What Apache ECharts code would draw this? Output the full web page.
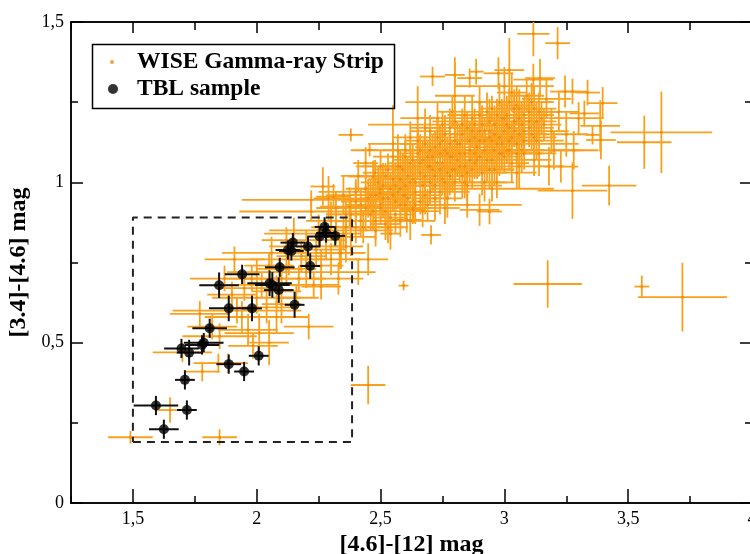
<!DOCTYPE html>
<html><head><meta charset="utf-8">
<script src="https://cdn.jsdelivr.net/npm/echarts@6/dist/echarts.min.js"></script>
<style>html,body{margin:0;padding:0;background:#fff}#c{width:750px;height:554px}</style>
</head><body><div id="c"></div>
<script>
// ---- data ----
const xMajorTicks = [1.5, 2, 2.5, 3, 3.5, 4];
const xMinorTicks = [1.25, 1.75, 2.25, 2.75, 3.25, 3.75];
const yMajorTicks = [0, 0.5, 1, 1.5];
const yMinorTicks = [0.25, 0.75, 1.25];
const boxX = [1.5, 2.385, 2.385, 1.5, 1.5];
const boxY = [0.19, 0.19, 0.89, 0.89, 0.19];
// [x, y, xerr, yerr]
const wisePoints = [
 [1.49,0.205,0.09,0.02],[1.85,0.205,0.07,0.025],[1.65,0.29,0.06,0.04],[1.78,0.41,0.07,0.03],
 [1.885,0.436,0.08,0.03],[1.845,0.436,0.1,0.03],[1.985,0.49,0.1,0.04],[1.965,0.54,0.12,0.05],
 [2.01,0.53,0.14,0.06],[2.21,0.55,0.1,0.04],[1.77,0.59,0.12,0.04],[1.9,0.65,0.1,0.04],
 [2.04,0.61,0.12,0.05],[2.16,0.64,0.09,0.04],[2.26,0.675,0.08,0.04],[2.41,0.72,0.07,0.04],
 [1.7,0.47,0.12,0.03],[1.82,0.55,0.1,0.04],[1.94,0.58,0.15,0.05],[2.08,0.58,0.13,0.05],
 [2.0,0.64,0.18,0.05],[1.87,0.7,0.14,0.04],[2.1,0.7,0.15,0.05],[2.2,0.72,0.14,0.05],
 [2.0,0.72,0.12,0.04],[2.13,0.76,0.16,0.05],[2.3,0.76,0.12,0.05],[2.06,0.78,0.2,0.05],
 [2.2,0.8,0.15,0.05],[2.34,0.78,0.1,0.05],[2.38,0.83,0.1,0.06],[2.25,0.85,0.2,0.05],
 [2.3,0.88,0.1,0.06],[2.15,0.84,0.12,0.05],[2.22,0.909,0.29,0.03],[1.95,0.67,0.1,0.04],
 [2.33,0.7,0.1,0.05],[2.45,0.76,0.08,0.05],[2.1,0.62,0.08,0.06],[1.91,0.76,0.12,0.04],
 [2.45,0.368,0.07,0.06],[2.593,0.678,0.02,0.015],[1.92,0.6,0.26,0.04],[1.85,0.52,0.15,0.04],
 [2.05,0.5,0.08,0.07],
 [2.05,0.74,0.1,0.04],[2.12,0.73,0.12,0.05],[2.18,0.77,0.1,0.05],[2.24,0.79,0.12,0.05],
 [2.28,0.82,0.08,0.06],[2.32,0.86,0.1,0.05],[2.35,0.84,0.07,0.05],[2.26,0.74,0.09,0.05],
 [2.17,0.7,0.11,0.04],[2.02,0.68,0.14,0.04],[2.08,0.66,0.1,0.05],[2.12,0.82,0.1,0.04],
 [1.98,0.7,0.1,0.04],[2.23,0.68,0.1,0.04],[2.36,0.8,0.07,0.05],[2.4,0.86,0.06,0.05],
 [2.375,0.924,0.12,0.06],[2.267,0.987,0.05,0.06],[2.47,1.018,0.1,0.05],[2.335,0.78,0.1,0.05],
 [2.42,0.88,0.1,0.05],[2.5,0.92,0.12,0.05],[2.45,0.95,0.1,0.06],[2.55,0.96,0.08,0.05],
 [2.4,0.97,0.15,0.04],[2.52,0.87,0.06,0.05],[2.6,0.93,0.1,0.05],[2.36,0.9,0.08,0.04],
 [2.29,0.95,0.06,0.07],[2.38,1.148,0.05,0.02],[2.456,1.101,0.03,0.02],[2.704,0.836,0.04,0.03],
 [2.478,1.03,0.05,0.04],[2.498,0.967,0.06,0.05],[2.31,0.955,0.07,0.04],[2.22,0.945,0.28,0.03],
 [2.46,0.90,0.08,0.05],[2.48,0.96,0.1,0.06],[2.50,0.93,0.12,0.05],[2.51,0.99,0.06,0.07],
 [2.53,0.95,0.09,0.04],[2.54,0.89,0.07,0.05],[2.55,1.01,0.1,0.06],[2.57,0.97,0.14,0.05],
 [2.58,0.93,0.08,0.06],[2.59,1.04,0.07,0.05],[2.60,0.99,0.1,0.07],[2.61,0.95,0.12,0.04],
 [2.62,1.06,0.09,0.06],[2.63,1.01,0.06,0.05],[2.64,0.97,0.11,0.06],[2.65,1.09,0.08,0.08],
 [2.66,1.03,0.13,0.05],[2.67,0.99,0.07,0.06],[2.68,1.12,0.1,0.07],[2.69,1.05,0.09,0.05],
 [2.70,1.00,0.15,0.06],[2.71,1.08,0.07,0.07],[2.72,1.02,0.1,0.05],[2.73,1.14,0.08,0.06],
 [2.74,0.97,0.12,0.07],[2.75,1.06,0.09,0.05],[2.76,1.10,0.11,0.06],[2.77,1.03,0.07,0.08],
 [2.78,1.17,0.1,0.06],[2.79,1.08,0.13,0.05],[2.80,1.00,0.08,0.06],[2.81,1.12,0.09,0.07],
 [2.82,1.05,0.12,0.05],[2.83,1.15,0.07,0.06],[2.84,1.09,0.1,0.08],[2.85,0.99,0.14,0.05],
 [2.86,1.13,0.08,0.06],[2.87,1.20,0.1,0.07],[2.88,1.06,0.09,0.05],[2.89,1.11,0.12,0.06],
 [2.90,1.16,0.07,0.06],[2.91,1.03,0.1,0.07],[2.92,1.10,0.13,0.05],[2.93,1.22,0.08,0.06],
 [2.94,1.14,0.09,0.08],[2.95,1.07,0.11,0.05],[2.96,1.18,0.07,0.06],[2.97,1.12,0.1,0.07],
 [2.98,1.25,0.12,0.06],[2.99,1.09,0.08,0.05],[3.00,1.16,0.1,0.07],[3.01,1.21,0.09,0.06],
 [3.02,1.13,0.13,0.05],[3.03,1.06,0.07,0.06],[3.04,1.19,0.1,0.08],[3.05,1.24,0.08,0.06],
 [3.06,1.15,0.11,0.05],[3.07,1.10,0.09,0.07],[3.08,1.21,0.12,0.06],[3.09,1.27,0.07,0.05],
 [3.10,1.17,0.1,0.06],[3.12,1.23,0.09,0.07],[3.13,1.13,0.11,0.06],[3.15,1.20,0.08,0.05],
 [3.17,1.26,0.1,0.06],[3.19,1.16,0.07,0.07],
 [2.52,1.02,0.05,0.04],[2.56,0.94,0.1,0.03],[2.6,1.08,0.06,0.05],[2.63,0.92,0.09,0.05],
 [2.67,1.07,0.05,0.06],[2.7,1.16,0.08,0.05],[2.72,0.95,0.06,0.07],[2.75,1.13,0.1,0.04],
 [2.78,1.02,0.05,0.06],[2.8,1.19,0.09,0.05],[2.83,1.02,0.07,0.07],[2.85,1.17,0.06,0.05],
 [2.87,1.04,0.1,0.06],[2.9,1.21,0.05,0.04],[2.92,1.0,0.09,0.06],[2.94,1.19,0.06,0.07],
 [2.96,1.04,0.08,0.05],[2.99,1.2,0.07,0.06],[3.01,1.1,0.1,0.04],[3.03,1.28,0.06,0.06],
 [3.06,1.05,0.09,0.07],[3.08,1.16,0.05,0.05],[3.11,1.25,0.08,0.06],[3.14,1.09,0.07,0.07],
 [2.58,0.98,0.06,0.05],[2.66,0.94,0.08,0.04],[2.74,1.09,0.05,0.06],[2.81,1.07,0.06,0.05],
 [2.88,1.14,0.05,0.06],[2.95,1.13,0.07,0.05],[3.02,1.17,0.06,0.06],[2.53,0.86,0.08,0.05],
 [2.62,0.88,0.1,0.06],[2.69,0.93,0.07,0.05],[2.77,0.95,0.06,0.06],
 [2.42,0.93,0.06,0.05],[2.44,0.98,0.08,0.04],[2.47,0.91,0.05,0.06],[2.49,1.0,0.07,0.05],
 [2.51,0.95,0.09,0.06],[2.53,1.04,0.06,0.05],[2.56,0.99,0.08,0.07],[2.57,1.05,0.07,0.05],
 [2.59,0.96,0.1,0.05],[2.61,1.02,0.06,0.06],[2.63,1.07,0.08,0.05],[2.64,1.0,0.07,0.07],
 [2.66,1.1,0.06,0.05],[2.68,1.02,0.09,0.06],[2.69,1.08,0.07,0.05],[2.71,1.04,0.06,0.07],
 [2.72,1.11,0.08,0.05],[2.73,1.06,0.1,0.06],[2.75,1.01,0.07,0.05],[2.76,1.15,0.06,0.06],
 [2.77,1.09,0.09,0.05],[2.79,1.04,0.06,0.07],[2.8,1.13,0.08,0.05],[2.82,1.09,0.07,0.06],
 [2.83,1.18,0.06,0.05],[2.84,1.05,0.09,0.06],[2.86,1.1,0.07,0.07],[2.87,1.16,0.06,0.05],
 [2.89,1.07,0.08,0.06],[2.9,1.13,0.07,0.05],[2.91,1.18,0.09,0.06],[2.93,1.07,0.06,0.07],
 [2.94,1.16,0.08,0.05],[2.96,1.1,0.07,0.06],[2.97,1.21,0.06,0.05],[2.98,1.14,0.09,0.07],
 [3.0,1.08,0.07,0.05],[3.01,1.18,0.08,0.06],[3.03,1.14,0.06,0.05],[3.04,1.23,0.07,0.06],
 [3.05,1.09,0.09,0.05],[3.07,1.18,0.06,0.07],[3.08,1.13,0.08,0.05],[3.1,1.22,0.07,0.06],
 [3.11,1.15,0.06,0.05],[3.13,1.19,0.08,0.06],[2.65,1.13,0.05,0.04],[2.7,0.97,0.05,0.04],
 [2.78,1.12,0.05,0.04],[2.85,1.03,0.05,0.04],[2.92,1.16,0.05,0.04],[2.99,1.12,0.05,0.04],
 [3.06,1.2,0.05,0.04],[2.58,1.01,0.05,0.04],[2.74,1.04,0.05,0.04],[2.88,1.09,0.05,0.04],
 [2.95,1.23,0.05,0.04],[3.02,1.25,0.05,0.04],
 [2.32,0.92,0.08,0.05],[2.35,0.96,0.07,0.06],[2.38,0.9,0.1,0.05],[2.4,0.94,0.06,0.06],
 [2.43,0.86,0.08,0.05],[2.44,0.92,0.07,0.07],[2.46,0.96,0.09,0.05],[2.48,0.88,0.07,0.06],
 [2.5,0.98,0.08,0.05],[2.52,0.91,0.1,0.06],[2.54,0.98,0.07,0.05],[2.56,0.9,0.08,0.06],
 [2.58,1.05,0.07,0.05],[2.6,0.96,0.09,0.07],[2.62,1.0,0.07,0.05],[2.64,0.93,0.1,0.06],
 [2.66,1.06,0.08,0.05],[2.68,0.96,0.07,0.06],[2.7,1.1,0.09,0.07],[2.72,0.99,0.08,0.05],
 [2.74,1.12,0.07,0.06],[2.76,1.0,0.1,0.05],[2.78,1.08,0.08,0.07],[2.8,1.04,0.07,0.05],
 [2.82,1.12,0.09,0.06],[2.84,1.0,0.08,0.05],[2.86,1.07,0.07,0.07],[2.88,1.18,0.09,0.05],
 [2.9,1.08,0.08,0.06],[2.92,1.13,0.07,0.05],[2.94,1.04,0.1,0.06],[2.96,1.15,0.08,0.05],
 [2.98,1.09,0.07,0.07],[3.0,1.2,0.09,0.05],[3.02,1.1,0.08,0.06],[3.04,1.16,0.07,0.05],
 [3.06,1.23,0.09,0.06],[3.08,1.09,0.08,0.05],[3.1,1.19,0.07,0.07],[3.12,1.14,0.09,0.05],
 [3.14,1.22,0.08,0.06],[3.16,1.18,0.07,0.05],[2.57,1.1,0.06,0.05],[2.62,1.14,0.07,0.05],
 [2.68,1.17,0.06,0.06],[2.73,1.2,0.07,0.05],[2.79,1.22,0.06,0.05],[2.84,1.21,0.07,0.06],
 [2.41,1.02,0.07,0.05],[2.44,1.06,0.05,0.05],[2.36,0.86,0.06,0.05],[2.48,0.85,0.07,0.05],
 [2.58,0.88,0.06,0.05],[2.67,0.91,0.07,0.05],[2.76,0.92,0.06,0.05],[2.97,1.0,0.07,0.05],
 [3.05,1.03,0.08,0.05],[3.12,1.07,0.07,0.05],
 [2.75,1.18,0.3,0.04],[2.9,1.25,0.3,0.05],[2.7,1.05,0.28,0.05],[2.95,0.98,0.25,0.04],
 [2.6,1.1,0.22,0.05],[3.05,1.12,0.25,0.05],[2.85,0.93,0.22,0.04],[3.0,1.3,0.2,0.06],
 [2.55,1.12,0.1,0.12],[2.8,1.27,0.08,0.12],[3.02,1.35,0.06,0.1],[2.65,1.2,0.07,0.1],
 [2.5,1.05,0.1,0.05],[2.55,1.08,0.08,0.05],
 [2.71,1.33,0.05,0.03],[2.8,1.335,0.04,0.04],[2.86,1.325,0.05,0.03],[2.886,1.345,0.03,0.04],
 [3.117,1.463,0.065,0.07],[3.215,1.434,0.05,0.05],[2.976,1.34,0.06,0.05],[3.117,1.32,0.08,0.05],
 [3.144,1.325,0.06,0.06],
 [3.245,1.283,0.06,0.05],[3.275,1.283,0.06,0.04],[3.336,1.28,0.05,0.04],[3.397,1.247,0.06,0.05],
 [3.387,1.176,0.08,0.08],[3.356,1.148,0.03,0.03],[3.39,1.132,0.06,0.06],[3.323,1.215,0.06,0.04],
 [3.228,1.049,0.07,0.05],[3.275,0.974,0.14,0.088],[3.423,0.99,0.11,0.062],[3.565,1.125,0.11,0.083],
 [3.634,1.156,0.205,0.127],[3.2,1.1,0.12,0.06],[3.25,1.15,0.09,0.07],[3.3,1.2,0.1,0.05],
 [3.22,1.22,0.08,0.06],[3.18,1.05,0.06,0.06],[3.28,1.1,0.1,0.06],
 [3.175,0.683,0.138,0.074],[3.555,0.675,0.03,0.034],[3.719,0.642,0.18,0.107],
 [2.9,0.914,0.08,0.05],[2.94,0.909,0.05,0.04],[2.54,0.84,0.04,0.05],[2.606,0.883,0.06,0.04],
 [2.633,0.914,0.05,0.04]
];
const tblPoints = [
 [2.274,0.861,0.04,0.03],[2.317,0.833,0.04,0.03],[2.254,0.831,0.05,0.03],[2.28,0.842,0.04,0.03],
 [2.146,0.812,0.05,0.03],[2.126,0.789,0.05,0.03],[2.14,0.786,0.05,0.03],[2.207,0.8,0.05,0.03],
 [2.093,0.735,0.06,0.03],[2.216,0.739,0.04,0.04],[1.941,0.713,0.07,0.03],[1.848,0.679,0.08,0.04],
 [2.052,0.685,0.09,0.04],[2.063,0.68,0.07,0.04],[2.089,0.664,0.06,0.04],[2.153,0.618,0.04,0.04],
 [1.887,0.607,0.08,0.04],[1.981,0.607,0.04,0.04],[1.81,0.545,0.07,0.03],[1.786,0.5,0.08,0.03],
 [1.779,0.493,0.07,0.03],[1.696,0.482,0.07,0.03],[1.727,0.469,0.05,0.04],[2.008,0.459,0.04,0.03],
 [1.887,0.433,0.05,0.03],[1.949,0.41,0.04,0.03],[1.71,0.384,0.04,0.03],[1.593,0.304,0.09,0.03],
 [1.718,0.29,0.04,0.03],[1.625,0.23,0.06,0.03]
];

// ---- chart ----
const ORANGE = '#F9A11C';
const FONT = 'Liberation Serif';
function errRender(color, lw) {
  return function (params, api) {
    const x = api.value(0), y = api.value(1), ex = api.value(2), ey = api.value(3);
    const l = api.coord([x - ex, y]), r = api.coord([x + ex, y]);
    const b = api.coord([x, y - ey]), t = api.coord([x, y + ey]);
    const style = { stroke: color, lineWidth: lw };
    return { type: 'group', children: [
      { type: 'line', shape: { x1: l[0], y1: l[1], x2: r[0], y2: r[1] }, style: style },
      { type: 'line', shape: { x1: b[0], y1: b[1], x2: t[0], y2: t[1] }, style: style }
    ]};
  };
}
const fmt = v => String(v).replace('.', ',');
const axisLineStyle = { color: '#000', width: 1.5 };
const nameStyle = { fontFamily: FONT, fontWeight: 'bold', fontSize: 24, color: '#000' };
function xAxis(pos, ticks, len, labels) {
  return {
    type: 'value', position: pos, min: 1.25, max: 4, interval: 0.25,
    axisLine: { show: true, onZero: false, lineStyle: axisLineStyle },
    axisTick: { show: true, inside: true, length: len, customValues: ticks, lineStyle: axisLineStyle },
    axisLabel: labels ? { show: true, customValues: xMajorTicks, formatter: fmt, color: '#000',
      fontFamily: FONT, fontSize: 18, margin: 7 } : { show: false },
    splitLine: { show: false },
    name: labels ? '[4.6]-[12] mag' : '', nameLocation: 'middle', nameGap: 27,
    nameTextStyle: nameStyle
  };
}
function yAxis(pos, ticks, len, labels) {
  return {
    type: 'value', position: pos, min: 0, max: 1.5, interval: 0.25,
    axisLine: { show: true, onZero: false, lineStyle: axisLineStyle },
    axisTick: { show: true, inside: true, length: len, customValues: ticks, lineStyle: axisLineStyle },
    axisLabel: labels ? { show: true, customValues: yMajorTicks, formatter: fmt, color: '#000',
      fontFamily: FONT, fontSize: 18, margin: 7 } : { show: false },
    splitLine: { show: false },
    name: labels ? '[3.4]-[4.6] mag' : '', nameLocation: 'middle', nameGap: 37, nameRotate: 90,
    nameTextStyle: nameStyle
  };
}
const legendText = { fontFamily: FONT, fontWeight: 'bold', fontSize: 23.5, color: '#000' };
const chart = echarts.init(document.getElementById('c'), null, { renderer: 'canvas' });
chart.setOption({
  animation: false,
  backgroundColor: '#fff',
  grid: { left: 71, top: 22, width: 681, height: 481, containLabel: false, outerBoundsMode: 'none' },
  xAxis: [
    xAxis('bottom', xMajorTicks, 14, true),
    xAxis('bottom', xMinorTicks, 7, false),
    xAxis('top', xMajorTicks, 11, false),
    xAxis('top', xMinorTicks, 8, false)
  ],
  yAxis: [
    yAxis('left', yMajorTicks, 12, true),
    yAxis('left', yMinorTicks, 7, false),
    yAxis('right', yMajorTicks, 12, false),
    yAxis('right', yMinorTicks, 7, false)
  ],
  legend: [
    { data: ['WISE Gamma-ray Strip'], left: 110, top: 50, padding: 0, orient: 'vertical',
      itemWidth: 4, itemHeight: 4, icon: 'circle',
      textStyle: Object.assign({ padding: [0, 0, 0, 18] }, legendText) },
    { data: ['TBL sample'], left: 108, top: 77, padding: 0, orient: 'vertical',
      itemWidth: 10, itemHeight: 10, icon: 'circle',
      textStyle: Object.assign({ padding: [0, 0, 0, 14] }, legendText) }
  ],
  graphic: [
    { type: 'rect', left: 90, top: 42, shape: { width: 302, height: 64 },
      style: { fill: 'none', stroke: '#000', lineWidth: 1.5 }, z: 100 }
  ],
  series: [
    { type: 'custom', name: 'wiseErr', data: wisePoints, renderItem: errRender(ORANGE, 1.8),
      encode: { x: 0, y: 1 }, clip: true, z: 1 },
    { type: 'scatter', name: 'WISE Gamma-ray Strip', data: wisePoints.map(p => [p[0], p[1]]),
      symbolSize: 3, itemStyle: { color: '#EE8A10' }, z: 2 },
    { type: 'line', name: 'box', data: boxX.map((x, i) => [x, boxY[i]]), symbol: 'none',
      lineStyle: { color: '#222', width: 2, type: [8, 6] }, z: 3 },
    { type: 'custom', name: 'tblErr', data: tblPoints, renderItem: errRender('#111', 2),
      encode: { x: 0, y: 1 }, clip: true, z: 4 },
    { type: 'scatter', name: 'TBL sample', data: tblPoints.map(p => [p[0], p[1]]),
      symbolSize: 10, itemStyle: { color: '#000' }, z: 5 }
  ]
});
</script></body></html>
